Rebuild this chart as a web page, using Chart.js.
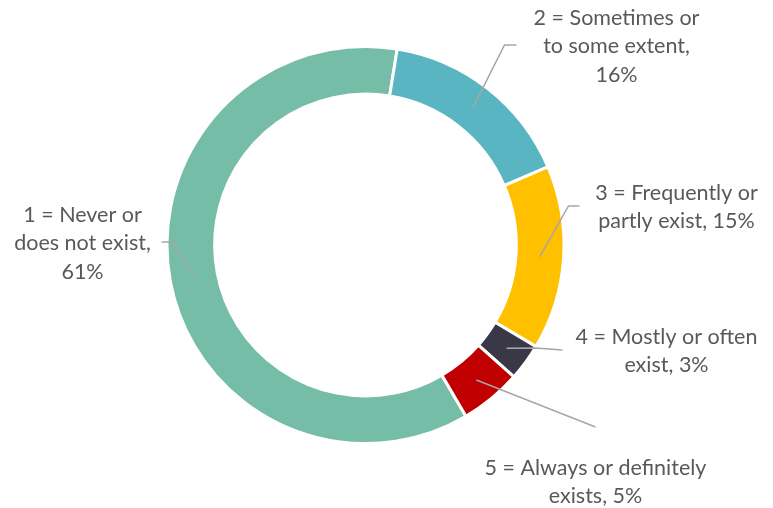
<!DOCTYPE html>
<html>
<head>
<meta charset="utf-8">
<script src="https://cdn.jsdelivr.net/npm/chart.js@4"></script>
<style>
  html, body { margin: 0; padding: 0; background: #fff; }
  #wrap { width: 773px; height: 508px; }
</style>
</head>
<body>
<div id="wrap"><canvas id="donutChart" width="773" height="508"></canvas></div>
<script>
// Chart data
const categories = ['1 = Never or does not exist', '2 = Sometimes or to some extent', '3 = Frequently or partly exist', '4 = Mostly or often exist', '5 = Always or definitely exists'];
const shares = [61, 16, 15, 3, 5];
const labelLines = [
    ['1 = Never or', 'does not exist,', '61%'],
    ['2 = Sometimes or', 'to some extent,', '16%'],
    ['3 = Frequently or', 'partly exist, 15%'],
    ['4 = Mostly or often', 'exist, 3%'],
    ['5 = Always or definitely', 'exists, 5%']
];
const colors = ['#76BDA7', '#59B5C1', '#FFC000', '#3A3747', '#C00000'];

// where each callout sits, relative to the ring centre (px)
const callouts = [
    { elbow: [-193, -3], end: [-204, -3], text: [-283, -30] },
    { elbow: [139, -200], end: [151, -200], text: [251, -227] },
    { elbow: [203, -39], end: [214, -39], text: [311, -52] },
    { elbow: [170, 103], end: [197, 105], text: [301, 92] },
    { elbow: null, end: [230, 182], text: [230, 223] }
];

const calloutPlugin = {
    id: 'callouts',
    afterDraw(chart) {
        const c = chart.ctx;
        const meta = chart.getDatasetMeta(0);
        meta.data.forEach((arc, i) => {
            const p = arc.getProps(['x', 'y', 'startAngle', 'endAngle', 'innerRadius', 'outerRadius'], true);
            const mid = (p.startAngle + p.endAngle) / 2;
            const r = (p.innerRadius + p.outerRadius) / 2;
            const co = callouts[i];
            c.save();
            c.strokeStyle = '#A6A6A6';
            c.lineWidth = 1.5;
            c.beginPath();
            c.moveTo(p.x + Math.cos(mid) * r, p.y + Math.sin(mid) * r);
            if (co.elbow) c.lineTo(p.x + co.elbow[0], p.y + co.elbow[1]);
            c.lineTo(p.x + co.end[0], p.y + co.end[1]);
            c.stroke();

            c.fillStyle = '#595959';
            c.font = '21.5px Lato, "Open Sans", sans-serif';
            c.textAlign = 'center';
            c.textBaseline = 'middle';
            labelLines[i].forEach((ln, j) => {
                c.fillText(ln, p.x + co.text[0], p.y + co.text[1] + j * 28.5);
            });
            c.restore();
        });
    }
};

const ctx = document.getElementById('donutChart').getContext('2d');
const donutChart = new Chart(ctx, {
    type: 'doughnut',
    data: {
        labels: categories,
        datasets: [{
            data: shares,
            backgroundColor: colors,
            borderColor: '#ffffff',
            borderWidth: 3
        }]
    },
    options: {
        responsive: false,
        animation: false,
        rotation: 149.6,
        cutout: '76%',
        layout: { padding: { top: 45, bottom: 63, left: 99, right: 141 } },
        plugins: {
            legend: { display: false },
            tooltip: { enabled: false }
        }
    },
    plugins: [calloutPlugin]
});
</script>
</body>
</html>
